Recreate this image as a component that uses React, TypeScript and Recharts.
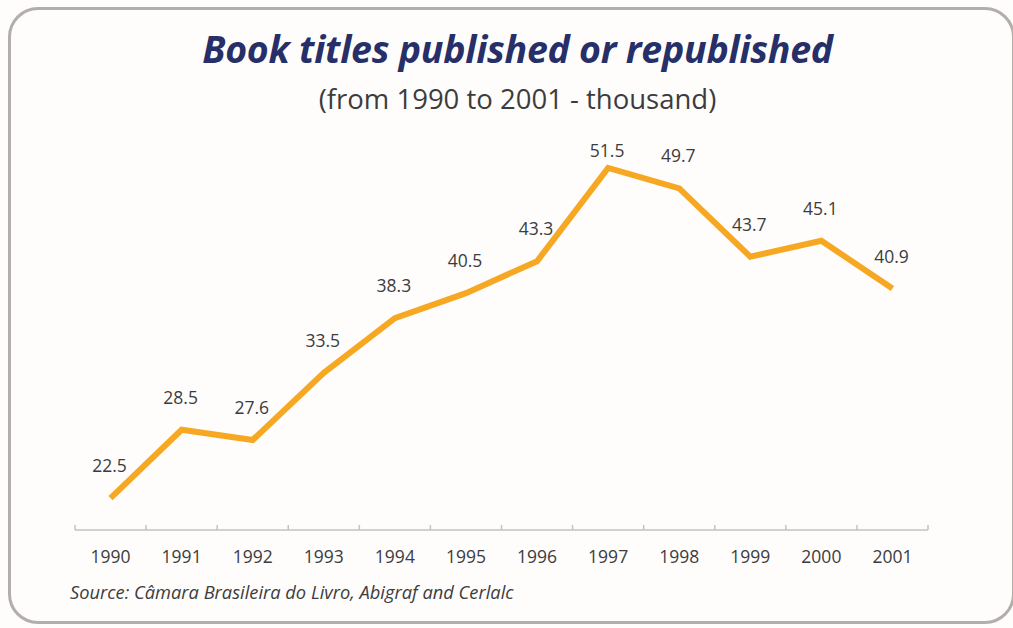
import React from 'react';
import { LineChart, Line, XAxis, YAxis, LabelList } from 'recharts';

const years = ['1990', '1991', '1992', '1993', '1994', '1995', '1996', '1997', '1998', '1999', '2000', '2001'];
const titles = [22.5, 28.5, 27.6, 33.5, 38.3, 40.5, 43.3, 51.5, 49.7, 43.7, 45.1, 40.9];

const data = years.map((y, i) => ({ year: y, value: titles[i] }));

const W = 1013;
const H = 628;
const M = { top: 128, right: 85, bottom: 68, left: 75 };
const HALF_BAND = (W - M.left - M.right) / years.length / 2;
const FONT = '"Open Sans", "Noto Sans", sans-serif';
const TEXT = '#3c3c3c';
const AXIS = '#c9c1bd';

const Tick = (props: any) => {
  const { x, y, payload, index } = props;
  const last = index === years.length - 1;
  return (
    <g>
      <line x1={x - HALF_BAND} x2={x - HALF_BAND} y1={y} y2={y - 5} stroke={AXIS} strokeWidth={1.5} />
      {last && <line x1={x + HALF_BAND} x2={x + HALF_BAND} y1={y} y2={y - 5} stroke={AXIS} strokeWidth={1.5} />}
      <text x={x} y={y + 33} textAnchor="middle" fontFamily={FONT} fontSize={17.5} fill={TEXT}>
        {payload.value}
      </text>
    </g>
  );
};

const ValueLabel = (props: any) => {
  const { x, y, value } = props;
  const by = Math.max(y - 26, 157);
  return (
    <text x={x - 1} y={by} textAnchor="middle" fontFamily={FONT} fontSize={17.5} fill={TEXT}>
      {String(value)}
    </text>
  );
};

export default function App() {
  return (
    <div style={{ position: 'fixed', left: 0, top: 0, width: W, height: H, background: '#fefdfc', overflow: 'hidden' }}>
      <div
        style={{
          position: 'absolute',
          left: 8,
          top: 7,
          width: 1007,
          height: 617,
          border: '3px solid #b3adab',
          borderRadius: 30,
          boxSizing: 'border-box',
        }}
      />
      <div
        style={{
          position: 'absolute',
          left: 0,
          width: W,
          top: 25,
          textAlign: 'center',
          fontFamily: FONT,
          fontWeight: 700,
          fontStyle: 'italic',
          fontSize: 37.5,
          letterSpacing: -0.25,
          color: '#272f69',
          paddingLeft: 22,
          boxSizing: 'border-box',
          lineHeight: '48px',
        }}
      >
        Book titles published or republished
      </div>
      <div
        style={{
          position: 'absolute',
          left: 0,
          width: W,
          top: 80,
          textAlign: 'center',
          fontFamily: FONT,
          fontSize: 27.5,
          letterSpacing: 0,
          color: TEXT,
          paddingLeft: 22,
          boxSizing: 'border-box',
          lineHeight: '38px',
        }}
      >
        (from 1990 to 2001 - thousand)
      </div>
      <div style={{ position: 'absolute', left: 0, top: 0 }}>
        <LineChart width={W} height={H} data={data} margin={M}>
          <XAxis
            dataKey="year"
            height={30}
            tickLine={false}
            tickSize={0}
            tickMargin={0}
            padding={{ left: HALF_BAND, right: HALF_BAND }}
            axisLine={{ stroke: AXIS, strokeWidth: 1.5 }}
            tick={<Tick />}
            interval={0}
          />
          <YAxis hide domain={[19.7, 55]} />
          <Line
            type="linear"
            dataKey="value"
            stroke="#f7a823"
            strokeWidth={6}
            dot={false}
            activeDot={false}
            isAnimationActive={false}
            strokeLinejoin="miter"
          >
            <LabelList dataKey="value" content={<ValueLabel />} />
          </Line>
        </LineChart>
      </div>
      <div
        style={{
          position: 'absolute',
          left: 70,
          top: 579,
          fontFamily: FONT,
          fontStyle: 'italic',
          fontSize: 18.3,
          color: TEXT,
          lineHeight: '26px',
        }}
      >
        Source: Câmara Brasileira do Livro, Abigraf and Cerlalc
      </div>
    </div>
  );
}
